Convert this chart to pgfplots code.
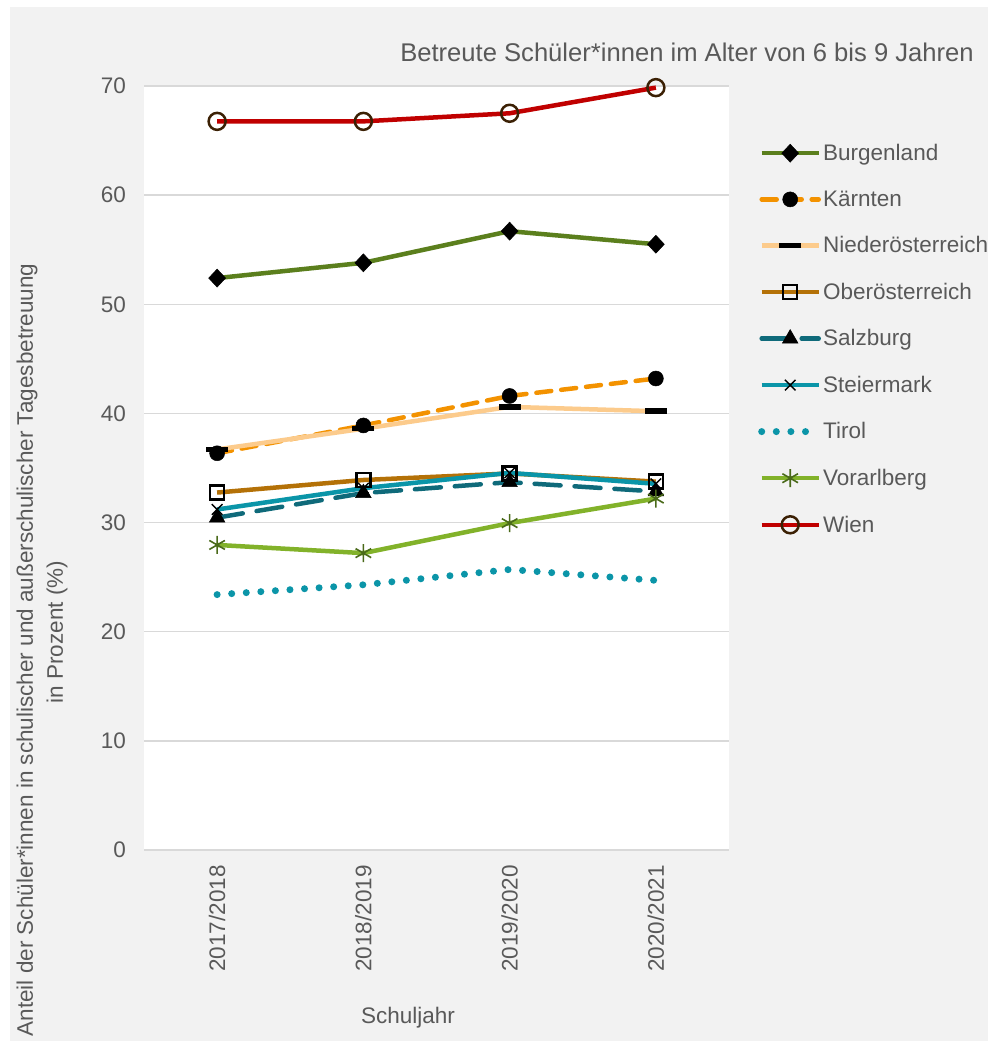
\documentclass[border=0pt]{standalone}
\usepackage{pgfplots}
\pgfplotsset{compat=1.18}
\usepackage{fontspec}
\setmainfont{Liberation Sans}
\definecolor{txt}{HTML}{595959}
\definecolor{bg}{HTML}{F2F2F2}
\definecolor{gridc}{HTML}{D9D9D9}
\definecolor{burg}{HTML}{5B7F1D}
\definecolor{kae}{HTML}{F39200}
\definecolor{noe}{HTML}{FCCB8C}
\definecolor{ooe}{HTML}{B47107}
\definecolor{sbg}{HTML}{0F6A7A}
\definecolor{stm}{HTML}{0A95A8}
\definecolor{tir}{HTML}{0B95A8}
\definecolor{vbg}{HTML}{82B22A}
\definecolor{vbgm}{HTML}{4A6A1A}
\definecolor{wien}{HTML}{C00000}
\definecolor{wienm}{HTML}{3B2004}
\newcommand\f{\fontsize{22.5}{27}\selectfont}
\begin{document}
\begin{tikzpicture}[x=1pt,y=1pt]
\fill[white] (0,0) rectangle (988,1041);
\fill[bg] (10,0) rectangle (988,1034);
\path[use as bounding box] (0,0) rectangle (988,1041);
\begin{axis}[at={(144pt,191pt)}, anchor=south west, scale only axis,
  width=585pt, height=764pt,
  xmin=-0.5, xmax=3.5, ymin=0, ymax=70,
  ytick={0,10,...,70}, xtick={0,1,2,3},
  xticklabels={2017/2018,2018/2019,2019/2020,2020/2021},
  axis background/.style={fill=white},
  axis x line*=bottom, axis y line*=left,
  separate axis lines,
  x axis line style={draw=gridc, line width=1.5pt, -},
  y axis line style={draw=none},
  major tick length=0pt,
  ymajorgrids, grid style={gridc, line width=1.5pt},
  tick label style={font=\f, text=txt, inner sep=0pt},
  /pgf/number format/assume math mode=true,
  yticklabel shift=18pt,
  xticklabel style={rotate=90, anchor=east},
  xticklabel shift=15pt,
  legend image code/.code={\draw[mark repeat=2,mark phase=2] plot coordinates {(0pt,0pt) (28.5pt,0pt) (57pt,0pt)};},
  legend style={at={(1,1)}, anchor=north west, xshift=29pt, yshift=-58pt,
    draw=none, fill=none, inner sep=0pt, row sep=28.7pt, column sep=1pt,
    font=\f, text=txt, nodes={inner sep=0pt}},
  legend cell align=left,
  every axis plot/.append style={line width=4.5pt},
]
\addplot[burg, mark=diamond*, mark size=9pt, mark options={black, fill=black, solid, line width=0.5pt, xscale=1.25}]
  coordinates {(0,52.4)(1,53.8)(2,56.7)(3,55.5)};
\addlegendentry{Burgenland}
\addplot[kae, dash pattern=on 15pt off 10pt, line cap=round, mark=*, mark size=7.5pt, mark options={black, fill=black, solid, line width=0.5pt}]
  coordinates {(0,36.35)(1,38.9)(2,41.6)(3,43.2)};
\addlegendentry{Kärnten}
\addplot[noe, mark=-, mark size=11pt, mark options={black, solid, line width=5.5pt}]
  coordinates {(0,36.7)(1,38.6)(2,40.6)(3,40.2)};
\addlegendentry{Niederösterreich}
\addplot[ooe, mark=square, mark size=7pt, mark options={black, solid, line width=2.5pt, fill=none}]
  coordinates {(0,32.75)(1,33.9)(2,34.5)(3,33.75)};
\addlegendentry{Oberösterreich}
\addplot[sbg, dash pattern=on 26pt off 14pt, line cap=round, mark=triangle*, mark size=9pt, mark options={black, fill=black, solid, line width=0.5pt}]
  coordinates {(0,30.45)(1,32.7)(2,33.7)(3,32.85)};
\addlegendentry{Salzburg}
\addplot[stm, mark=x, mark size=7.5pt, mark options={black, solid, line width=1.4pt}]
  coordinates {(0,31.2)(1,33.15)(2,34.55)(3,33.55)};
\addlegendentry{Steiermark}
\addplot[tir, line width=7pt, dash pattern=on 0pt off 14.6pt, line cap=round]
  coordinates {(0,23.4)(1,24.3)(2,25.7)(3,24.7)};
\addlegendentry{Tirol}
\addplot[vbg, mark=asterisk, mark size=9pt, mark options={vbgm, solid, line width=1.6pt}]
  coordinates {(0,27.95)(1,27.2)(2,29.95)(3,32.2)};
\addlegendentry{Vorarlberg}
\addplot[wien, mark=o, mark size=8.5pt, mark options={wienm, solid, line width=2.5pt, fill=none}]
  coordinates {(0,66.76)(1,66.76)(2,67.5)(3,69.85)};
\addlegendentry{Wien}
\end{axis}
\node[font=\fontsize{25.6}{30}\selectfont, text=txt] at (687,989) {Betreute Schüler*innen im Alter von 6 bis 9 Jahren};
\node[font=\f, text=txt] at (408,23) {Schuljahr};
\node[font=\f, text=txt, rotate=90] at (27,391) {Anteil der Schüler*innen in schulischer und außerschulischer Tagesbetreuung};
\node[font=\f, text=txt, rotate=90] at (57,409) {in Prozent (\%)};
\end{tikzpicture}
\end{document}
